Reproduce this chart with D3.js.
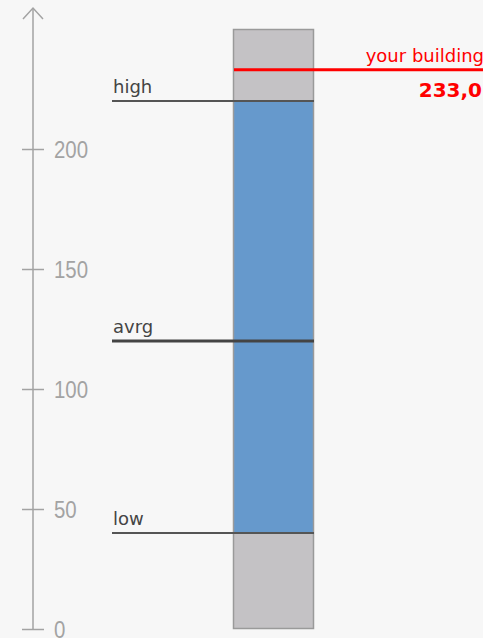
<!DOCTYPE html>
<html><head><meta charset="utf-8">
<script src="https://cdn.jsdelivr.net/npm/d3@7"></script>
<style>html,body{margin:0;padding:0;background:#f7f7f7;}svg{display:block;}</style>
</head><body>
<svg id="c" width="483" height="638"></svg>
<script>
const tickValues = [0, 50, 100, 150, 200];
const rangeMax = 250;
const levelNames = ["high", "avrg", "low"];
const levelValues = [220, 120, 40];
const buildingLabel = "your building";
const buildingValue = 233;

const svg = d3.select("#c");
const y = d3.scaleLinear().domain([0, rangeMax]).range([629, 29]);
const axisColor = "#a3a3a3";

// axis line + arrow
svg.append("line").attr("x1", 33).attr("x2", 33).attr("y1", y(0)).attr("y2", y(rangeMax) - 21)
  .attr("stroke", axisColor).attr("stroke-width", 1.5);
svg.append("path").attr("d", `M23,${y(rangeMax) - 10} L33,${y(rangeMax) - 21} L43,${y(rangeMax) - 10}`)
  .attr("fill", "none").attr("stroke", axisColor).attr("stroke-width", 1.5);

const axis = d3.axisRight(y).tickValues(tickValues).tickSize(22).tickPadding(10).tickFormat(d3.format("d"));
const g = svg.append("g").attr("transform", "translate(22,0)").call(axis);
g.select(".domain").remove();
g.selectAll(".tick line").attr("stroke", axisColor).attr("stroke-width", 1.5);
g.selectAll(".tick text").attr("fill", axisColor)
  .attr("x", 0).attr("transform", "translate(32,0) scale(0.85,1)")
  .style("font-family", "'Liberation Sans', Arial, sans-serif")
  .style("font-size", "24px").attr("dy", "0.36em");

// bar background
const bx0 = 233, bx1 = 314;
svg.append("rect").attr("x", bx0).attr("y", y(rangeMax)).attr("width", bx1 - bx0).attr("height", y(0) - y(rangeMax))
  .attr("fill", "#c4c2c5");
svg.append("rect").attr("x", bx0).attr("y", y(levelValues[0])).attr("width", bx1 - bx0)
  .attr("height", y(levelValues[2]) - y(levelValues[0])).attr("fill", "#6699cc");
svg.append("rect").attr("x", bx0 + 0.5).attr("y", y(rangeMax) + 0.5).attr("width", bx1 - bx0 - 1).attr("height", y(0) - y(rangeMax) - 1)
  .attr("fill", "none").attr("stroke", "#9a9a9a").attr("stroke-width", 1.5);

// level lines
const widths = [1.8, 3, 1.8];
const lineCols = ["#555", "#444", "#555"];
levelNames.forEach((n, i) => {
  const yy = y(levelValues[i]);
  svg.append("line").attr("x1", 112).attr("x2", bx1).attr("y1", yy).attr("y2", yy)
    .attr("stroke", lineCols[i]).attr("stroke-width", widths[i]);
  svg.append("text").attr("x", 113).attr("y", yy - 8.5).text(n)
    .attr("fill", "#444").style("font-family", "'DejaVu Sans', sans-serif").style("font-size", "18px");
});

// building
const by = y(buildingValue);
svg.append("line").attr("x1", 234).attr("x2", 483).attr("y1", by).attr("y2", by)
  .attr("stroke", "#ff0000").attr("stroke-width", 3);
svg.append("text").attr("x", 484).attr("y", by - 8).attr("text-anchor", "end").text(buildingLabel)
  .attr("fill", "#ff0000").style("font-family", "'DejaVu Sans', sans-serif").style("font-size", "18px");
svg.append("text").attr("x", 482).attr("y", by + 27).attr("text-anchor", "end")
  .text(d3.format(".1f")(buildingValue).replace(".", ","))
  .attr("fill", "#ff0000").style("font-family", "'DejaVu Sans', sans-serif").style("font-size", "20px").style("font-weight", "bold");
</script>
</body></html>
